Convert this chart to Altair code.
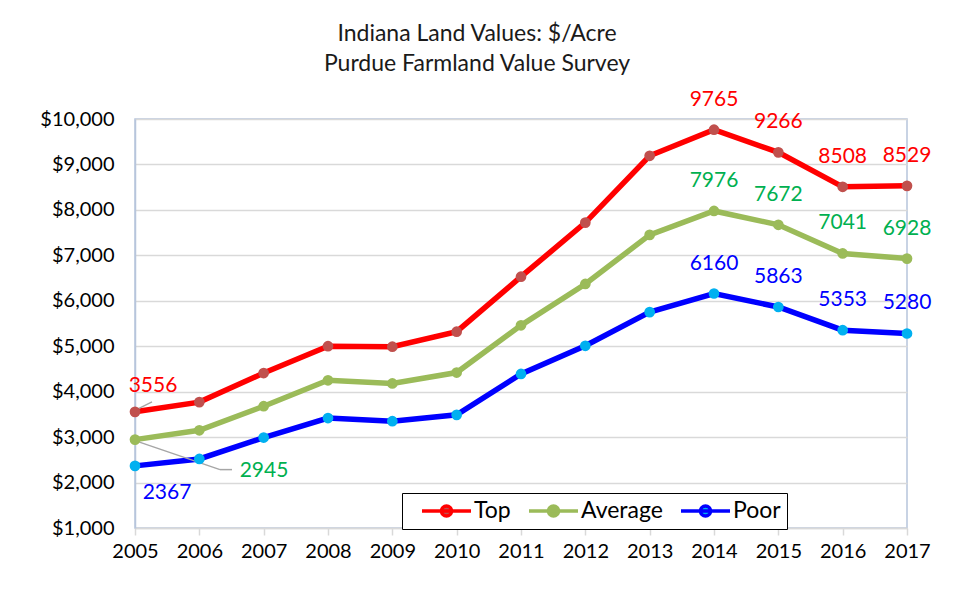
import altair as alt
import pandas as pd

years = list(range(2005, 2018))
top = [3556, 3770, 4410, 5000, 4990, 5320, 6530, 7720, 9190, 9765, 9266, 8508, 8529]
average = [2945, 3150, 3680, 4250, 4180, 4420, 5460, 6370, 7450, 7976, 7672, 7041, 6928]
poor = [2367, 2520, 2990, 3420, 3350, 3490, 4390, 5010, 5750, 6160, 5863, 5353, 5280]
series_names = ["Top", "Average", "Poor"]
line_colors = ["#FF0000", "#9BBB59", "#0000FF"]
marker_colors = ["#C0504D", "#9BBB59", "#00B0F0"]
label_colors = ["#FF0000", "#00B050", "#0000FF"]
y_ticks = list(range(1000, 10001, 1000))
title_lines = ["Indiana Land Values: $/Acre", "Purdue Farmland Value Survey"]

rows = []
for name, vals in zip(series_names, [top, average, poor]):
    for yr, v in zip(years, vals):
        rows.append({"Year": yr, "Value": v, "Series": name, "Lbl": name})
df = pd.DataFrame(rows)

FONT = "Lato"

legend_symbol = ("M0.2,0L5.1,0M3.15,0A0.5,0.5,0,1,1,2.15,0"
                 "A0.5,0.5,0,1,1,3.15,0Z")
legend = alt.Legend(
    title=None, orient="none", legendX=267, legendY=374, direction="horizontal",
    symbolType=legend_symbol, symbolSize=400, symbolStrokeWidth=3.5,
    labelFont=FONT, labelFontSize=23, labelColor="black", labelOffset=42,
    labelExpr="datum.label + '   '", columnPadding=4, padding=6,
    strokeColor="black", fillColor="white", symbolOpacity=1,
)

x_enc = alt.X("Year:Q",
              scale=alt.Scale(domain=[2005, 2017], nice=False, zero=False),
              axis=alt.Axis(title=None, values=years, format="d", grid=False,
                            domainColor="#D9D9D9", domainWidth=1.5,
                            tickColor="#D9D9D9", tickWidth=1.5, tickSize=7,
                            labelFont=FONT, labelFontSize=20, labelColor="black",
                            labelPadding=6, labelOverlap=False, labelFlush=False,
                            labelBound=False))
y_enc = alt.Y("Value:Q",
              scale=alt.Scale(domain=[1000, 10000], nice=False, zero=False),
              axis=alt.Axis(title=None, values=y_ticks, format="$,.0f",
                            grid=True, gridColor="#D9D9D9", gridWidth=1.3,
                            domainColor="#B7C5DC", domainWidth=1.5, ticks=False,
                            labelFont=FONT, labelFontSize=20, labelColor="black",
                            labelPadding=21, labelOverlap=False, labelFlush=False))

base = alt.Chart(df).encode(x=x_enc, y=y_enc)

lines = base.mark_line(strokeWidth=5.5).encode(
    stroke=alt.Stroke("Series:N", scale=alt.Scale(domain=series_names, range=line_colors),
                      legend=legend, sort=series_names)
)
points = base.mark_circle(size=115, opacity=1).encode(
    fill=alt.Fill("Series:N", scale=alt.Scale(domain=series_names, range=marker_colors),
                  legend=legend, sort=series_names)
)

lbl_color = alt.Color("Lbl:N", scale=alt.Scale(domain=series_names, range=label_colors),
                      legend=None)

end_labels = base.mark_text(dy=-30, fontSize=21, font=FONT).encode(
    text=alt.Text("Value:Q", format="d"), color=lbl_color
).transform_filter("datum.Year >= 2014")

def first_label(name, dx, dy):
    return base.mark_text(dx=dx, dy=dy, fontSize=21, font=FONT).encode(
        text=alt.Text("Value:Q", format="d"), color=lbl_color
    ).transform_filter(f"datum.Year == 2005 && datum.Series == '{name}'")

lab_top = first_label("Top", 18, -26)
lab_avg = first_label("Average", 129, 31)
lab_poor = first_label("Poor", 32, 27)

def leader(name, xo, yo, x2o, y2o):
    return base.mark_rule(color="#A6A6A6", strokeWidth=1.5, xOffset=xo, yOffset=yo,
                          x2Offset=x2o, y2Offset=y2o).encode(
        x2="Year:Q", y2="Value:Q"
    ).transform_filter(f"datum.Year == 2005 && datum.Series == '{name}'")

lead_top = leader("Top", 3, -3, 17, -10)
lead_avg1 = leader("Average", 3, 2, 85, 30)
lead_avg2 = leader("Average", 85, 30, 97, 30)

chart = alt.layer(
    lines, lead_top, lead_avg1, lead_avg2, points, end_labels, lab_top, lab_avg, lab_poor
).properties(
    width=772, height=409,
    autosize=alt.AutoSizeParams(type="none"),
    padding={"left": 127, "top": 111, "right": 45, "bottom": 59},
    title=alt.Title(title_lines, font=FONT, fontSize=23, fontWeight="normal",
                    color="#1a1a1a", anchor="middle", dx=-44, offset=13, lineHeight=30),
).configure_view(stroke="#B7C5DC", strokeWidth=1.5)

chart.save("out.html", embed_options={"renderer": "svg", "actions": False})
